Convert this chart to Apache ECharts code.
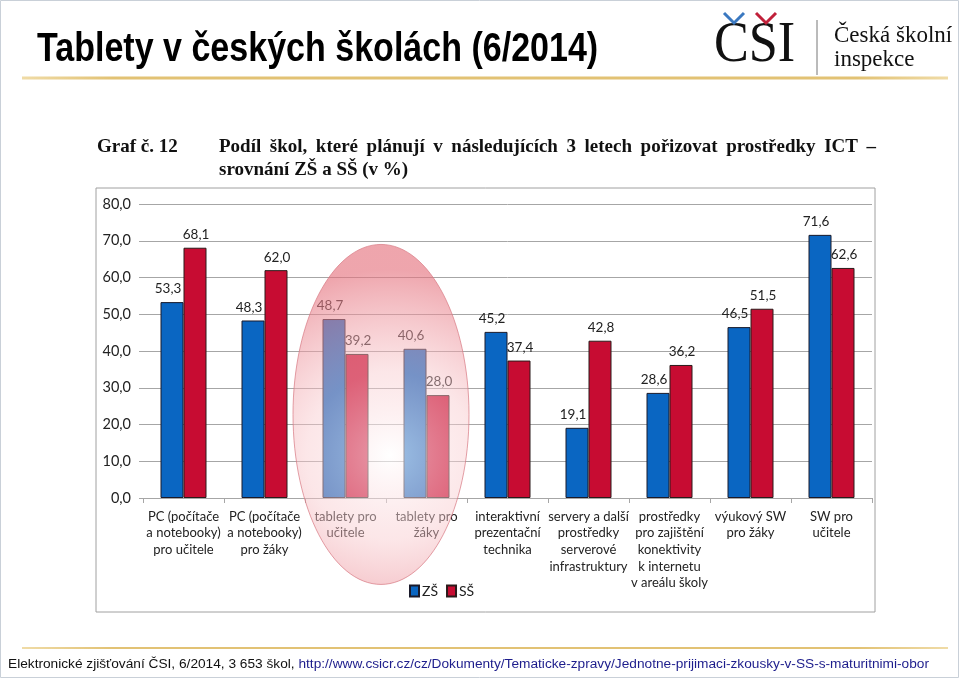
<!DOCTYPE html>
<html><head><meta charset="utf-8">
<script src="https://cdn.jsdelivr.net/npm/echarts@6/dist/echarts.min.js"></script>
<style>html,body{margin:0;padding:0;background:#fff}#c{width:959px;height:678px}</style>
</head><body><div id="c"></div>
<script>
const categories = [
  'PC (počítače\na notebooky)\npro učitele',
  'PC (počítače\na notebooky)\npro žáky',
  'tablety pro\nučitele',
  'tablety pro\nžáky',
  'interaktivní\nprezentační\ntechnika',
  'servery a další\nprostředky\nserverové\ninfrastruktury',
  'prostředky\npro zajištění\nkonektivity\nk internetu\nv areálu školy',
  'výukový SW\npro žáky',
  'SW pro\nučitele'
];
const zsValues = [53.3, 48.3, 48.7, 40.6, 45.2, 19.1, 28.6, 46.5, 71.6];
const ssValues = [68.1, 62.0, 39.2, 28.0, 37.4, 42.8, 36.2, 51.5, 62.6];
const seriesNames = ['ZŠ', 'SŠ'];
const yTicks = [0, 10, 20, 30, 40, 50, 60, 70, 80];
const highlighted = [2, 3];
const headLine1 = 'Podíl škol, které plánují v následujících 3 letech pořizovat prostředky ICT –';
const headLine2 = 'srovnání ZŠ a SŠ (v %)';

const fmt = v => v.toFixed(1).replace('.', ',');
const chart = echarts.init(document.getElementById('c'), null, {renderer: 'canvas'});
const lblFont = 'Lato, "Open Sans", sans-serif';

chart.setOption({
  animation: false,
  backgroundColor: '#fff',
  grid: {left: 143, right: 87, top: 204, bottom: 180},
  legend: {
    data: seriesNames, left: 404, top: 579, itemWidth: 9, itemHeight: 11, itemGap: 8,
    icon: 'rect',
    textStyle: {fontFamily: lblFont, fontSize: 14, color: '#222', padding: [0, 0, 0, -2]}
  },
  xAxis: {
    type: 'category', data: categories,
    axisLine: {lineStyle: {color: '#a6a6a6'}},
    axisTick: {show: true, length: 5, lineStyle: {color: '#a6a6a6'}},
    axisLabel: {interval: 0, fontFamily: lblFont, fontSize: 13, lineHeight: 16.7, color: '#222', margin: 10}
  },
  yAxis: {
    type: 'value', min: yTicks[0], max: yTicks[yTicks.length - 1], interval: 10,
    axisLine: {show: false},
    axisTick: {show: true, length: 4, lineStyle: {color: '#a6a6a6'}},
    splitLine: {lineStyle: {color: '#a6a6a6'}},
    axisLabel: {formatter: v => fmt(v), fontFamily: lblFont, fontSize: 14.5, color: '#222', margin: 12}
  },
  series: [
    {name: seriesNames[0], type: 'bar', data: zsValues, barWidth: 23, barGap: '0%',
     itemStyle: {color: '#0a66c2', borderColor: '#1a1a2a', borderWidth: 1},
     label: {show: true, position: 'top', formatter: p => fmt(p.value), fontFamily: lblFont, fontSize: 13.5, color: '#222', distance: 6, offset: [-4, 0]}},
    {name: seriesNames[1], type: 'bar', data: ssValues, barWidth: 23,
     itemStyle: {color: '#c70c32', borderColor: '#2a1a1a', borderWidth: 1},
     label: {show: true, position: 'top', formatter: p => fmt(p.value), fontFamily: lblFont, fontSize: 13.5, color: '#222', distance: 6, offset: [1, 0]}}
  ]
});

// highlight ellipse around the tablet categories, located via axis scale
const pA = chart.convertToPixel({gridIndex: 0}, [highlighted[0], 0]);
const pB = chart.convertToPixel({gridIndex: 0}, [highlighted[1], 0]);
const pTop = chart.convertToPixel({gridIndex: 0}, [highlighted[0], 69]);
const cx = (pA[0] + pB[0]) / 2 - 5;
const cy = pTop[1] + 170;

// justified header line
const hFont = 'bold 19px "Liberation Serif", serif';
const ctx = document.createElement('canvas').getContext('2d');
ctx.font = hFont;
const words = headLine1.split(' ');
const widths = words.map(w => ctx.measureText(w).width);
const x0 = 219, x1 = 876;
const gap = (x1 - x0 - widths.reduce((a, b) => a + b, 0)) / (words.length - 1);
const headGraphics = [];
let xx = x0;
words.forEach((w, i) => {
  headGraphics.push({type: 'text', x: xx, y: 138, style: {text: w, font: hFont, fill: '#111'}});
  xx += widths[i] + gap;
});
headGraphics.push({type: 'text', x: x0, y: 161, style: {text: headLine2, font: hFont, fill: '#111'}});

const goldStroke = {type: 'linear', x: 0, y: 0, x2: 1, y2: 0, colorStops: [{offset: 0, color: '#f0dca8'}, {offset: 0.1, color: '#e2c274'}, {offset: 0.9, color: '#e2c274'}, {offset: 1, color: '#f0dca8'}]};

chart.setOption({
  graphic: [
    {type: 'rect', shape: {x: 0.5, y: 0.5, width: 958, height: 677}, style: {fill: 'none', stroke: '#c9d0d8', lineWidth: 1}, z: 1},
    {type: 'text', x: 37, y: 29, scaleX: 0.83, style: {text: 'Tablety v českých školách (6/2014)', font: 'bold 41px "Liberation Sans", Arial, sans-serif', fill: '#000'}},
    {type: 'line', shape: {x1: 22, y1: 78, x2: 948, y2: 78}, style: {stroke: goldStroke, lineWidth: 3}},
    {type: 'text', x: 714, y: 17, scaleX: 0.9, style: {text: 'CSI', font: '58px "Liberation Serif", "DejaVu Serif", serif', fill: '#111'}},
    {type: 'polyline', shape: {points: [[724, 13], [734, 23], [744, 13]]}, style: {stroke: '#3a78c0', lineWidth: 3, fill: 'none'}},
    {type: 'polyline', shape: {points: [[756, 13], [766, 23], [776, 13]]}, style: {stroke: '#c0203a', lineWidth: 3, fill: 'none'}},
    {type: 'line', shape: {x1: 817, y1: 20, x2: 817, y2: 75}, style: {stroke: '#777', lineWidth: 1}},
    {type: 'text', left: 834, top: 24, style: {text: 'Česká školní\ninspekce', font: '23px "Liberation Serif", serif', lineHeight: 24, fill: '#111'}},
    {type: 'rect', shape: {x: 96, y: 188, width: 779, height: 424}, style: {fill: 'none', stroke: '#a0a0a0', lineWidth: 1}},
    {type: 'text', x: 97, y: 138, style: {text: 'Graf č. 12', font: hFont, fill: '#111'}},
    ...headGraphics,
    {type: 'ellipse', shape: {cx: cx, cy: cy, rx: 88, ry: 170}, z: 50,
     style: {fill: {type: 'radial', x: 0.55, y: 0.62, r: 1.05, colorStops: [
       {offset: 0, color: 'rgba(255,255,255,0.6)'},
       {offset: 0.45, color: 'rgba(248,200,204,0.45)'},
       {offset: 1, color: 'rgba(228,110,122,0.62)'}]},
       stroke: 'rgba(215,120,130,0.7)', lineWidth: 1}},
    {type: 'line', shape: {x1: 22, y1: 648, x2: 948, y2: 648}, style: {stroke: goldStroke, lineWidth: 2}},
    {type: 'text', x: 8, y: 657, style: {text: '{a|Elektronické zjišťování ČSI, 6/2014, 3 653 škol, }{b|http://www.csicr.cz/cz/Dokumenty/Tematicke-zpravy/Jednotne-prijimaci-zkousky-v-SS-s-maturitnimi-obor}',
      font: '13.7px "Liberation Sans", Arial, sans-serif',
      rich: {a: {fontFamily: '"Liberation Sans", Arial, sans-serif', fontSize: 13.7, fill: '#111'}, b: {fontFamily: '"Liberation Sans", Arial, sans-serif', fontSize: 13.7, fill: '#1d1d8c'}}}}
  ]
});
</script></body></html>
